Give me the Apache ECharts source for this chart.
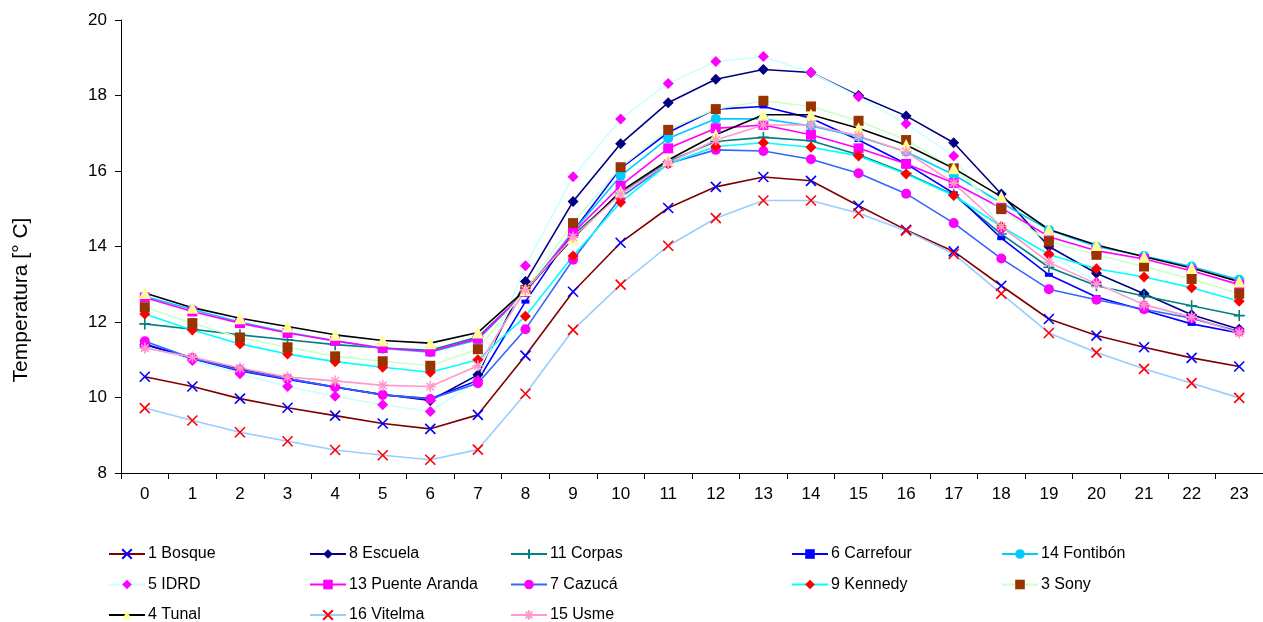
<!DOCTYPE html>
<html>
<head>
<meta charset="utf-8">
<script src="https://cdn.jsdelivr.net/npm/echarts@6/dist/echarts.min.js"></script>
<style>
html,body{margin:0;padding:0;background:#fff;}
#chart{width:1263px;height:622px;}
</style>
</head>
<body>
<div id="chart"></div>
<script>
const hours = ['0','1','2','3','4','5','6','7','8','9','10','11','12','13','14','15','16','17','18','19','20','21','22','23'];
const yTicks = [8, 10, 12, 14, 16, 18, 20];
const yAxisTitle = 'Temperatura [° C]';

const bosque = [10.55,10.29,9.97,9.73,9.52,9.31,9.17,9.54,11.11,12.80,14.10,15.02,15.58,15.84,15.74,15.08,14.44,13.87,12.96,12.08,11.64,11.33,11.05,10.82];
const escuela = [11.40,11.05,10.75,10.50,10.28,10.08,9.92,10.60,13.07,15.19,16.72,17.81,18.43,18.69,18.61,18.00,17.46,16.75,15.39,14.00,13.29,12.75,12.19,11.81];
const corpas = [11.95,11.81,11.66,11.53,11.40,11.31,11.25,11.60,12.80,14.30,15.41,16.25,16.78,16.89,16.80,16.43,15.94,15.37,14.33,13.45,12.96,12.69,12.43,12.17];
const carrefour = [11.42,11.03,10.70,10.48,10.27,10.07,9.97,10.45,12.54,14.40,16.07,17.02,17.64,17.71,17.40,16.82,16.19,15.41,14.22,13.25,12.66,12.31,11.95,11.71];
const fontibon = [12.68,12.33,12.00,11.73,11.50,11.30,11.20,11.53,12.80,14.40,15.87,16.87,17.38,17.38,17.19,16.91,16.51,15.90,15.16,14.44,14.00,13.75,13.47,13.12];
const idrd = [11.35,10.98,10.63,10.29,10.03,9.81,9.63,10.45,13.49,15.85,17.38,18.32,18.90,19.03,18.61,17.97,17.25,16.40,14.45,13.80,13.05,12.45,12.10,11.75];
const puenteAranda = [12.65,12.28,11.97,11.71,11.50,11.31,11.22,11.56,12.80,14.36,15.61,16.60,17.13,17.22,16.96,16.60,16.19,15.68,15.02,14.26,13.89,13.67,13.36,12.99];
const cazuca = [11.49,11.04,10.72,10.50,10.28,10.07,9.96,10.38,11.81,13.65,15.30,16.20,16.56,16.53,16.31,15.94,15.40,14.62,13.68,12.87,12.59,12.34,12.10,11.75];
const kennedy = [12.21,11.79,11.42,11.15,10.95,10.80,10.67,11.00,12.15,13.75,15.17,16.19,16.65,16.75,16.63,16.40,15.92,15.35,14.53,13.79,13.41,13.19,12.91,12.55];
const sony = [12.39,11.97,11.59,11.33,11.09,10.96,10.84,11.28,12.85,14.62,16.10,17.09,17.64,17.86,17.71,17.33,16.82,16.07,14.99,14.13,13.78,13.47,13.14,12.75];
const tunal = [12.77,12.38,12.10,11.88,11.66,11.51,11.44,11.72,12.85,14.22,15.46,16.29,16.96,17.49,17.49,17.13,16.69,16.07,15.32,14.45,14.04,13.73,13.43,13.07];
const vitelma = [9.72,9.39,9.08,8.84,8.61,8.47,8.35,8.62,10.10,11.79,12.99,14.02,14.75,15.22,15.22,14.88,14.42,13.80,12.75,11.71,11.19,10.76,10.38,9.99];
const usme = [11.31,11.07,10.78,10.54,10.44,10.32,10.29,10.84,12.85,14.25,15.39,16.21,16.82,17.22,17.22,16.93,16.51,15.68,14.53,13.58,13.01,12.46,12.13,11.71];

const names = ['1 Bosque','8 Escuela','11 Corpas','6 Carrefour','14 Fontibón','5 IDRD','13 Puente Aranda','7 Cazucá','9 Kennedy','3 Sony','4 Tunal','16 Vitelma','15 Usme'];

const X_PATH = 'path://M0,0L10,10M10,0L0,10';
const PLUS_PATH = 'path://M5,0L5,10M0,5L10,5';
const STAR_PATH = 'path://M5,0L5,10M0,5L10,5M1.5,1.5L8.5,8.5M8.5,1.5L1.5,8.5';

function mk(name, data, lineColor, symbol, size, markColor, stroked) {
  return {
    name: name, type: 'line', data: data,
    symbol: symbol, symbolSize: size, showSymbol: true,
    lineStyle: { color: lineColor, width: 1.6 },
    itemStyle: stroked
      ? { color: markColor, borderColor: markColor, borderWidth: 1.6 }
      : { color: markColor, borderColor: markColor, borderWidth: 0 },
    emphasis: { disabled: true },
    animation: false,
    z: 2
  };
}

const series = [
  mk(names[0], bosque, '#800000', X_PATH, 10, '#0000FF', true),
  mk(names[1], escuela, '#000080', 'diamond', 11, '#000080', false),
  mk(names[2], corpas, '#008080', PLUS_PATH, 11, '#008080', true),
  mk(names[3], carrefour, '#0000FF', 'rect', [8, 4], '#0000FF', false),
  mk(names[4], fontibon, '#00CCFF', 'circle', 10, '#00CCFF', false),
  mk(names[5], idrd, '#CCFFFF', 'diamond', 11, '#FF00FF', false),
  mk(names[6], puenteAranda, '#FF00FF', 'rect', 10, '#FF00FF', false),
  mk(names[7], cazuca, '#3366FF', 'circle', 10, '#FF00FF', false),
  mk(names[8], kennedy, '#00FFFF', 'diamond', 11, '#FF0000', false),
  mk(names[9], sony, '#CCFFCC', 'rect', 10, '#993300', false),
  mk(names[10], tunal, '#000000', 'triangle', 12, '#FFFF99', false),
  mk(names[11], vitelma, '#99CCFF', X_PATH, 10, '#FF0000', true),
  mk(names[12], usme, '#FF99CC', STAR_PATH, 11, '#FF99CC', true)
];

const legendCols = [
  { left: 108, data: [names[0], names[5], names[10]] },
  { left: 309, data: [names[1], names[6], names[11]] },
  { left: 510, data: [names[2], names[7], names[12]] },
  { left: 791, data: [names[3], names[8]] },
  { left: 1001, data: [names[4], names[9]] }
];

const FONT = '"Liberation Sans", Arial, sans-serif';

const legends = legendCols.map(c => ({
  orient: 'vertical',
  left: c.left,
  top: 546,
  height: 100,
  padding: 0,
  itemWidth: 36,
  itemHeight: 12,
  itemGap: 14.5,
  selectedMode: false,
  data: c.data,
  textStyle: { fontSize: 16, lineHeight: 16, color: '#000', fontFamily: FONT, padding: [0, 0, 0, -2] }
}));

const chart = echarts.init(document.getElementById('chart'), null, { renderer: 'canvas' });
chart.setOption({
  backgroundColor: '#fff',
  animation: false,
  grid: { left: 121, right: 0, top: 20, bottom: 149, containLabel: false },
  xAxis: {
    type: 'category',
    data: hours,
    boundaryGap: true,
    axisLine: { lineStyle: { color: '#000', width: 1 } },
    axisTick: { show: true, alignWithLabel: false, length: 6, inside: false, lineStyle: { color: '#000' } },
    axisLabel: { color: '#000', fontSize: 17, fontFamily: FONT, margin: 13, interval: 0 },
    splitLine: { show: false }
  },
  yAxis: {
    type: 'value',
    min: yTicks[0],
    max: yTicks[yTicks.length - 1],
    interval: yTicks[1] - yTicks[0],
    axisLine: { show: true, lineStyle: { color: '#000', width: 1 } },
    axisTick: { show: true, length: 6, inside: false, lineStyle: { color: '#000' } },
    axisLabel: { color: '#000', fontSize: 17, fontFamily: FONT, margin: 14 },
    splitLine: { show: false }
  },
  legend: legends,
  graphic: [{
    type: 'text',
    x: 21, y: 300,
    rotation: Math.PI / 2,
    style: {
      text: yAxisTitle,
      fontSize: 21,
      fontFamily: FONT,
      fill: '#000',
      align: 'center',
      verticalAlign: 'middle'
    }
  }],
  series: series
});
</script>
</body>
</html>
